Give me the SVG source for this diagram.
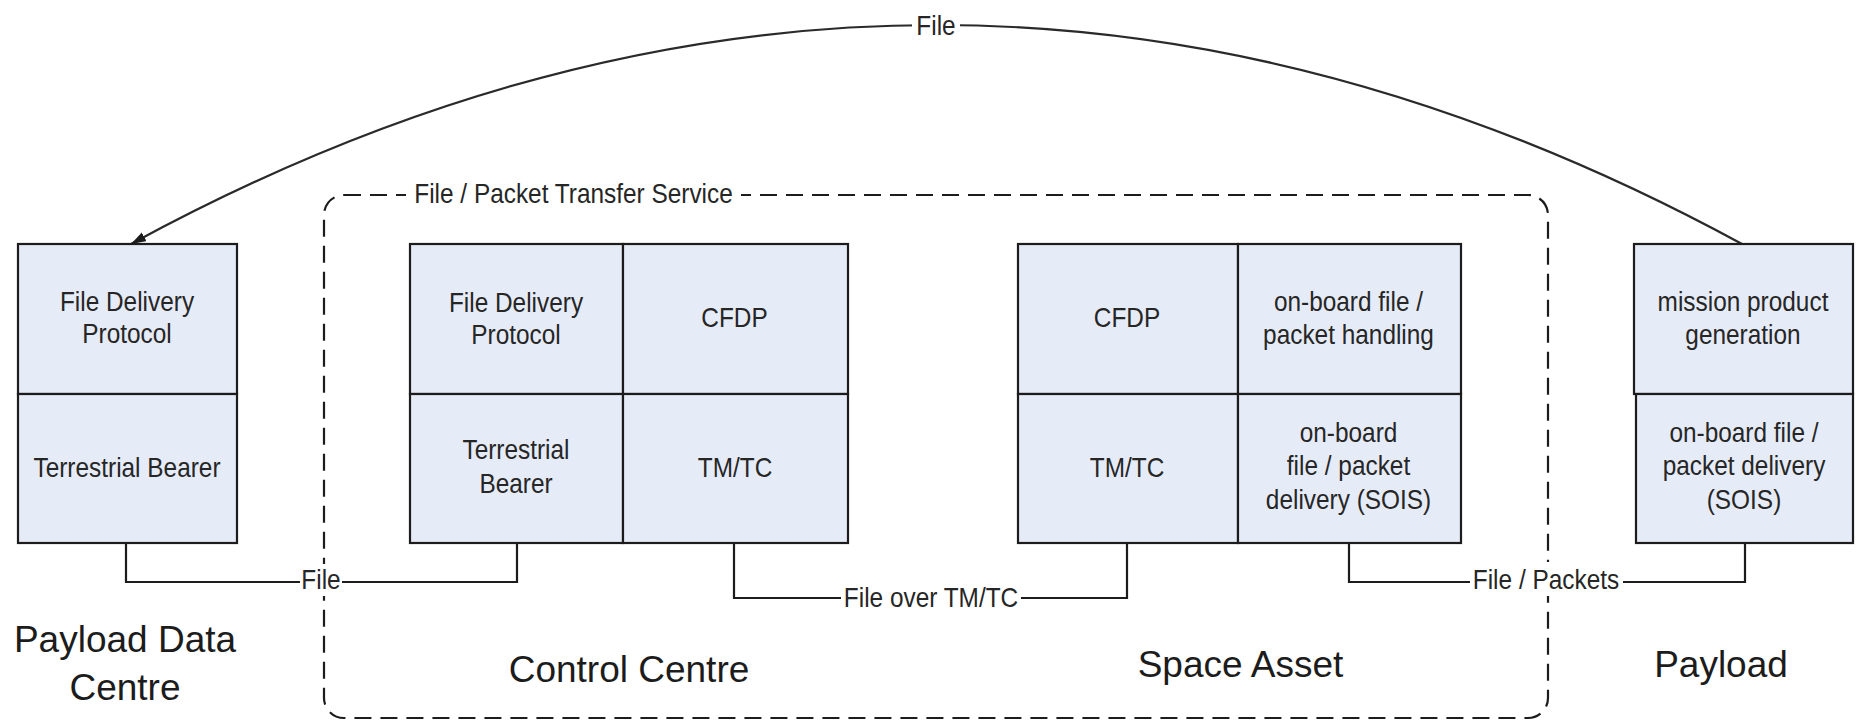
<svg xmlns="http://www.w3.org/2000/svg" width="1857" height="722" viewBox="0 0 1857 722">
<style>
  .cell{fill:#E6ECF7;stroke:#1c1c1c;stroke-width:2.2}
  .t{font-family:"Liberation Sans",Arial,sans-serif;font-size:24.4px;fill:#262626;text-anchor:middle}
  .big{font-family:"Liberation Sans",Arial,sans-serif;font-size:37px;fill:#1c1c1c;text-anchor:middle}
  .wire{fill:none;stroke:#1c1c1c;stroke-width:2.2}
  .arc{fill:none;stroke:#2a2a2a;stroke-width:2.2}
  .svc{fill:none;stroke:#1c1c1c;stroke-width:2.2;stroke-dasharray:17 9}
  .bg{fill:#ffffff}
</style>
<defs>
  <marker id="arrow" markerUnits="userSpaceOnUse" markerWidth="18" markerHeight="12" refX="15" refY="5" orient="auto">
    <path d="M0,0 L15,5 L0,10 Z" fill="#1c1c1c"/>
  </marker>
</defs>

<!-- service boundary -->
<g id="service-boundary">
  <rect class="svc" x="324" y="195" width="1224" height="523" rx="20" ry="20"/>
  <rect class="bg" x="406" y="180" width="335" height="30"/>
  <text class="t" transform="translate(573.5,203.3) scale(1,1.15)">File / Packet Transfer Service</text>
</g>

<!-- connectors -->
<g id="connectors">
  <path class="arc" d="M1742,244 Q936.5,-194 131,244" marker-end="url(#arrow)"/>
  <polyline class="wire" points="126,543 126,582 517,582 517,543"/>
  <polyline class="wire" points="734,543 734,598 1127,598 1127,543"/>
  <polyline class="wire" points="1349,543 1349,582 1745,582 1745,543"/>
  <rect class="bg" x="912" y="12" width="48" height="28"/>
  <text class="t" transform="translate(936,35) scale(1,1.15)">File</text>
  <rect class="bg" x="300" y="564" width="42" height="32"/>
  <text class="t" transform="translate(321,589) scale(1,1.15)">File</text>
  <rect class="bg" x="841" y="583" width="180" height="28"/>
  <text class="t" transform="translate(931,606.5) scale(1,1.15)">File over TM/TC</text>
  <rect class="bg" x="1470" y="562" width="153" height="34"/>
  <text class="t" transform="translate(1546,589) scale(1,1.15)">File / Packets</text>
</g>

<!-- Payload Data Centre -->
<g id="payload-data-centre">
  <rect class="cell" x="18" y="244" width="219" height="150"/>
  <rect class="cell" x="18" y="394" width="219" height="149"/>
  <text class="t" transform="translate(127,310.7) scale(1,1.15)"><tspan x="0">File Delivery</tspan><tspan x="0" dy="28.5">Protocol</tspan></text>
  <text class="t" transform="translate(127,476.7) scale(1,1.15)">Terrestrial Bearer</text>
  <text class="big" x="125" y="652"><tspan x="125">Payload Data</tspan><tspan x="125" dy="48">Centre</tspan></text>
</g>

<!-- Control Centre -->
<g id="control-centre">
  <rect class="cell" x="410" y="244" width="213" height="150"/>
  <rect class="cell" x="623" y="244" width="225" height="150"/>
  <rect class="cell" x="410" y="394" width="213" height="149"/>
  <rect class="cell" x="623" y="394" width="225" height="149"/>
  <text class="t" transform="translate(516,311.5) scale(1,1.15)"><tspan x="0">File Delivery</tspan><tspan x="0" dy="28.5">Protocol</tspan></text>
  <text class="t" transform="translate(734.5,326.7) scale(1,1.15)">CFDP</text>
  <text class="t" transform="translate(516,459.3) scale(1,1.15)"><tspan x="0">Terrestrial</tspan><tspan x="0" dy="29">Bearer</tspan></text>
  <text class="t" transform="translate(735,476.7) scale(1,1.15)">TM/TC</text>
  <text class="big" x="629" y="682">Control Centre</text>
</g>

<!-- Space Asset -->
<g id="space-asset">
  <rect class="cell" x="1018" y="244" width="220" height="150"/>
  <rect class="cell" x="1238" y="244" width="223" height="150"/>
  <rect class="cell" x="1018" y="394" width="220" height="149"/>
  <rect class="cell" x="1238" y="394" width="223" height="149"/>
  <text class="t" transform="translate(1127,326.7) scale(1,1.15)">CFDP</text>
  <text class="t" transform="translate(1348.5,310.7) scale(1,1.15)"><tspan x="0">on-board file /</tspan><tspan x="0" dy="29">packet handling</tspan></text>
  <text class="t" transform="translate(1127,476.7) scale(1,1.15)">TM/TC</text>
  <text class="t" transform="translate(1348.5,442.3) scale(1,1.15)"><tspan x="0">on-board</tspan><tspan x="0" dy="28.8">file / packet</tspan><tspan x="0" dy="28.8">delivery (SOIS)</tspan></text>
  <text class="big" x="1240.5" y="677">Space Asset</text>
</g>

<!-- Payload -->
<g id="payload">
  <rect class="cell" x="1634" y="244" width="219" height="150"/>
  <rect class="cell" x="1636" y="394" width="217" height="149"/>
  <text class="t" transform="translate(1743,311) scale(1,1.15)"><tspan x="0">mission product</tspan><tspan x="0" dy="28.5">generation</tspan></text>
  <text class="t" transform="translate(1744,442.3) scale(1,1.15)"><tspan x="0">on-board file /</tspan><tspan x="0" dy="28.8">packet delivery</tspan><tspan x="0" dy="28.8">(SOIS)</tspan></text>
  <text class="big" x="1721" y="677">Payload</text>
</g>
</svg>
